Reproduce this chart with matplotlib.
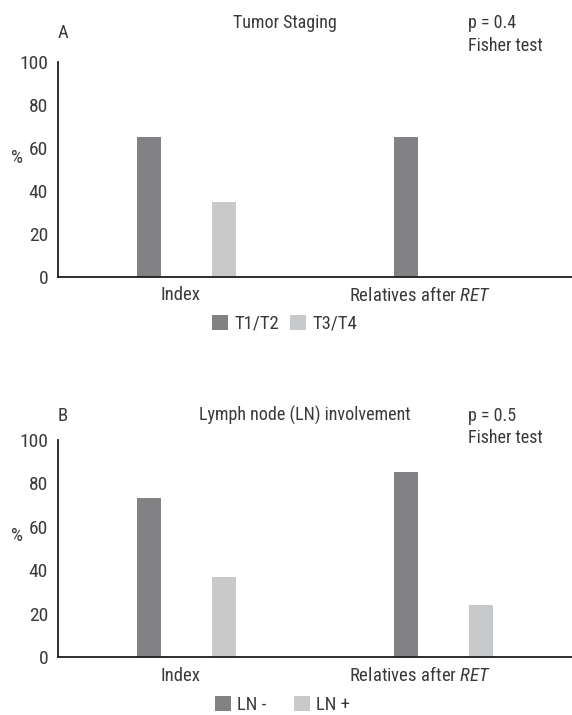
import matplotlib
matplotlib.use('Agg')
import matplotlib.pyplot as plt
import matplotlib.transforms as mtransforms
from matplotlib import font_manager
import numpy as np

# data
categories = ['Index', 'Relatives after $\\it{RET}$']
stage_labels = ['T1/T2', 'T3/T4']
stage_values = [[65, 65], [35, 0]]
ln_labels = ['LN -', 'LN +']
ln_values = [[73, 85], [37, 24]]
yticks = [0, 20, 40, 60, 80, 100]

names = {f.name for f in font_manager.fontManager.ttflist}
fam = 'DejaVu Sans'
for cand in ['Roboto Condensed', 'Liberation Sans Narrow', 'Open Sans Condensed', 'Liberation Sans']:
    if cand in names:
        fam = cand
        break
plt.rcParams['font.family'] = [fam, 'DejaVu Sans']
plt.rcParams['mathtext.fontset'] = 'custom'
plt.rcParams['mathtext.rm'] = fam
plt.rcParams['mathtext.it'] = fam + ':italic'
plt.rcParams['text.color'] = '#3a3a3a'

dark = '#828285'
light = '#c8c9cb'
fs = 13.5

fig = plt.figure(figsize=(5.72, 7.15), dpi=100)


def panel(rect, values, labels, letter, title, tx, pval, ty, fy, ly, leg_x, leg_y, colsp):
    ax = fig.add_axes(rect)
    x = np.arange(len(categories))
    w = 0.093
    off = 0.145
    ax.bar(x - off, values[0], w, color=dark, label=labels[0])
    ax.bar(x + off, values[1], w, color=light, label=labels[1])
    ax.set_xlim(-0.5, 1.5)
    ax.set_ylim(0, 100)
    ax.set_yticks(yticks)
    ax.tick_params(axis='y', length=0, pad=7, labelsize=14, labelcolor='#3a3a3a')
    ax.set_xticks([])
    for s in ['top', 'right']:
        ax.spines[s].set_visible(False)
    for s in ['left', 'bottom']:
        ax.spines[s].set_color('#1e1e1e')
        ax.spines[s].set_linewidth(1.3)
    # category labels, shifted a little left like the original
    trans = mtransforms.blended_transform_factory(ax.transData, ax.transAxes)
    for i, (cat, dx) in enumerate(zip(categories, [-6, -24])):
        t = trans + mtransforms.ScaledTranslation(dx / 100, 0, fig.dpi_scale_trans)
        ax.text(i, -0.085, cat, transform=t, ha='center', va='center', fontsize=fs)
    ax.text(-0.08, 0.555, '%', transform=ax.transAxes, ha='center', va='center', fontsize=fs)
    ax.text(0.0, ly, letter, transform=ax.transAxes, ha='left', va='center', fontsize=fs)
    ax.text(tx, ty, title, transform=ax.transAxes, ha='center', va='center', fontsize=13)
    ax.text(0.798, ty, pval, transform=ax.transAxes, ha='left', va='center', fontsize=13)
    ax.text(0.798, fy, 'Fisher test', transform=ax.transAxes, ha='left', va='center', fontsize=13)
    fig.legend(*ax.get_legend_handles_labels(), loc='center', bbox_to_anchor=(leg_x, leg_y),
               ncol=2, frameon=False, fontsize=fs, handlelength=0.85, handleheight=0.85,
               handletextpad=0.35, columnspacing=colsp)
    return ax


panel([0.101, 0.6126, 0.899, 0.3004], stage_values, stage_labels, 'A', 'Tumor Staging', 0.442,
      'p = 0.4', 1.184, 1.074, 1.134, 0.498, 0.547, 0.55)
panel([0.101, 0.081, 0.899, 0.304], ln_values, ln_labels, 'B', 'Lymph node (LN) involvement', 0.48,
      'p = 0.5', 1.11, 1.01, 1.11, 0.494, 0.014, 1.45)

fig.savefig('out.png', dpi=100)
